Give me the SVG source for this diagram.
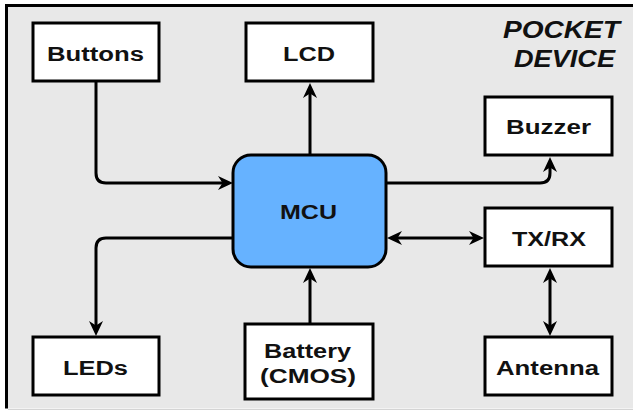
<svg xmlns="http://www.w3.org/2000/svg" width="633" height="411" viewBox="0 0 633 411">
  <style>
    .box { fill: #ffffff; stroke: #000000; stroke-width: 3; }
    .mcu { fill: #66b2ff; stroke: #000000; stroke-width: 3; }
    .lbl { font-family: "Liberation Sans", Arial, sans-serif; font-weight: bold; font-size: 20px; fill: #111111; text-anchor: middle; }
    .title { font-family: "Liberation Sans", Arial, sans-serif; font-weight: bold; font-style: italic; font-size: 23px; fill: #111111; }
    .wire { fill: none; stroke: #000000; stroke-width: 3; }
  </style>
  <defs>
    <marker id="arr" viewBox="0 0 15 14" refX="10" refY="7" markerWidth="15" markerHeight="14" markerUnits="userSpaceOnUse" orient="auto-start-reverse">
      <path d="M0,0 L15,7 L0,14 L4.5,7 z" fill="#000000"/>
    </marker>
  </defs>
  <rect x="0" y="0" width="633" height="411" fill="#ffffff"/>
  <rect x="6.5" y="5.5" width="640" height="403" fill="#e8e8e8" stroke="none"/>
  <path d="M6.5,408.5 V5.5 H633" fill="none" stroke="#000000" stroke-width="3"/>
  <line x1="8" y1="409.5" x2="633" y2="409.5" stroke="#d4d4d4" stroke-width="1"/>

  <g id="title">
    <text class="title" x="503" y="38" textLength="117" lengthAdjust="spacingAndGlyphs">POCKET</text>
    <text class="title" x="514" y="66.5" textLength="101" lengthAdjust="spacingAndGlyphs">DEVICE</text>
  </g>

  <g id="connectors">
    <path class="wire" d="M96,81 V173 Q96,183 106,183 H228" marker-end="url(#arr)"/>
    <path class="wire" d="M310,155 V88" marker-end="url(#arr)"/>
    <path class="wire" d="M386,183 H540 Q550,183 550,173 V162" marker-end="url(#arr)"/>
    <path class="wire" d="M233,238 H106 Q96,238 96,248 V331" marker-end="url(#arr)"/>
    <path class="wire" d="M310,324 V273" marker-end="url(#arr)"/>
    <path class="wire" d="M392,238 H479" marker-start="url(#arr)" marker-end="url(#arr)"/>
    <path class="wire" d="M550,273 V331" marker-start="url(#arr)" marker-end="url(#arr)"/>
  </g>

  <g id="buttons">
    <rect class="box" x="33" y="23" width="126" height="58"/>
    <text class="lbl" x="95.5" y="60.5" textLength="97" lengthAdjust="spacingAndGlyphs">Buttons</text>
  </g>
  <g id="lcd">
    <rect class="box" x="246" y="23" width="127" height="58"/>
    <text class="lbl" x="309" y="60.5" textLength="52" lengthAdjust="spacingAndGlyphs">LCD</text>
  </g>
  <g id="buzzer">
    <rect class="box" x="485" y="97" width="127" height="58"/>
    <text class="lbl" x="548.5" y="133.5" textLength="85" lengthAdjust="spacingAndGlyphs">Buzzer</text>
  </g>
  <g id="mcu">
    <rect class="mcu" x="233" y="155" width="153" height="112" rx="18" ry="18"/>
    <text class="lbl" x="308.5" y="218.5" textLength="57" lengthAdjust="spacingAndGlyphs">MCU</text>
  </g>
  <g id="txrx">
    <rect class="box" x="485" y="208" width="127" height="58"/>
    <text class="lbl" x="549" y="245.5" textLength="74" lengthAdjust="spacingAndGlyphs">TX/RX</text>
  </g>
  <g id="leds">
    <rect class="box" x="33" y="337" width="126" height="58"/>
    <text class="lbl" x="95.5" y="374.5" textLength="65" lengthAdjust="spacingAndGlyphs">LEDs</text>
  </g>
  <g id="battery">
    <rect class="box" x="245" y="324" width="128" height="75"/>
    <text class="lbl" x="307.5" y="357.5" textLength="87" lengthAdjust="spacingAndGlyphs">Battery</text>
    <text class="lbl" x="308" y="382.5" textLength="96" lengthAdjust="spacingAndGlyphs">(CMOS)</text>
  </g>
  <g id="antenna">
    <rect class="box" x="485" y="337" width="127" height="58"/>
    <text class="lbl" x="547.5" y="374.5" textLength="103" lengthAdjust="spacingAndGlyphs">Antenna</text>
  </g>
</svg>
